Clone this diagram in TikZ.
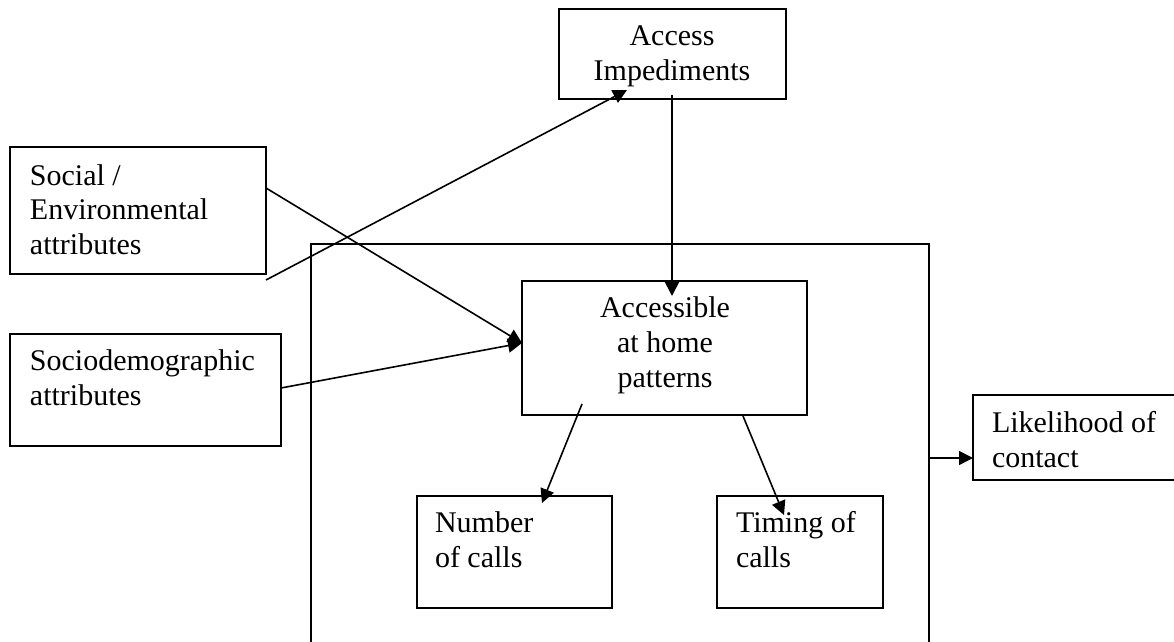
\documentclass[tikz,border=0pt]{standalone}
\usepackage{fontspec}
\setmainfont{Liberation Serif}
\usetikzlibrary{arrows.meta}
\tikzset{
  box/.style={draw, line width=0.75pt, inner sep=0pt, outer sep=0pt, anchor=north west},
  txt/.style={inner sep=0pt, outer sep=0pt, font={\fontsize{15pt}{17.5pt}\selectfont}},
  conn/.style={line width=0.8pt, -{Triangle[length=7pt,width=7pt]}},
  plain/.style={line width=0.8pt}
}
\begin{document}
\begin{tikzpicture}[x=0.5pt, y=-0.5pt]
\useasboundingbox (0,0) rectangle (1174,642);
\clip (0,0) rectangle (1174,642);
% boxes
\node[box, minimum width=113.5pt, minimum height=45pt] (access) at (559,9) {};
\node[box, minimum width=128pt, minimum height=63.5pt] (social) at (10,147) {};
\node[box, minimum width=135.5pt, minimum height=56pt] (socdem) at (10,334) {};
\node[box, minimum width=309pt, minimum height=203pt] (big) at (311,244) {};
\node[box, minimum width=142.5pt, minimum height=67pt] (accessible) at (522,281) {};
\node[box, minimum width=97.5pt, minimum height=56pt] (number) at (417,496) {};
\node[box, minimum width=83pt, minimum height=56pt] (timing) at (717,496) {};
\node[box, minimum width=105pt, minimum height=42.5pt] (likely) at (973,395) {};
% texts
\node[txt, anchor=north, align=center] (accessT) at (672,21.5) {\strut Access\\Impediments};
\node[txt, anchor=north west, align=left] (socialT) at (30,160.5) {\strut Social /\\Environmental\\attributes};
\node[txt, anchor=north west, align=left] (socdemT) at (30,345.5) {\strut Sociodemographic\\attributes};
\node[txt, anchor=north, align=center] (accessibleT) at (665,292.5) {\strut Accessible\\at home\\patterns};
\node[txt, anchor=north west, align=left] (numberT) at (435,507.5) {\strut Number\\of calls};
\node[txt, anchor=north west, align=left] (timingT) at (736,507.5) {\strut Timing of\\calls};
\node[txt, anchor=north west, align=left] (likelyT) at (992,407.5) {\strut Likelihood of\\contact};
% connectors
\draw[conn] ([shift={(0,41)}]social.north east) -- ([shift={(0,62)}]accessible.north west);
\draw[conn] ([shift={(0,54)}]socdem.north east) -- ([shift={(0,62)}]accessible.north west);
\draw[conn] ([shift={(0,6)}]social.south east) -- ([shift={(68,-9)}]access.south west);
\draw[conn] ([shift={(-0.5,-4)}]access.south) -- ([shift={(7.5,15)}]accessible.north);
\draw[conn] ([shift={(60,-11)}]accessible.south west) -- ([shift={(125,7)}]number.north west);
\draw[conn] ([shift={(221,1)}]accessible.south west) -- ([shift={(67,19)}]timing.north west);
\draw[conn] ([shift={(0,214)}]big.north east) -- ([shift={(0,63)}]likely.north west);
\end{tikzpicture}
\end{document}
